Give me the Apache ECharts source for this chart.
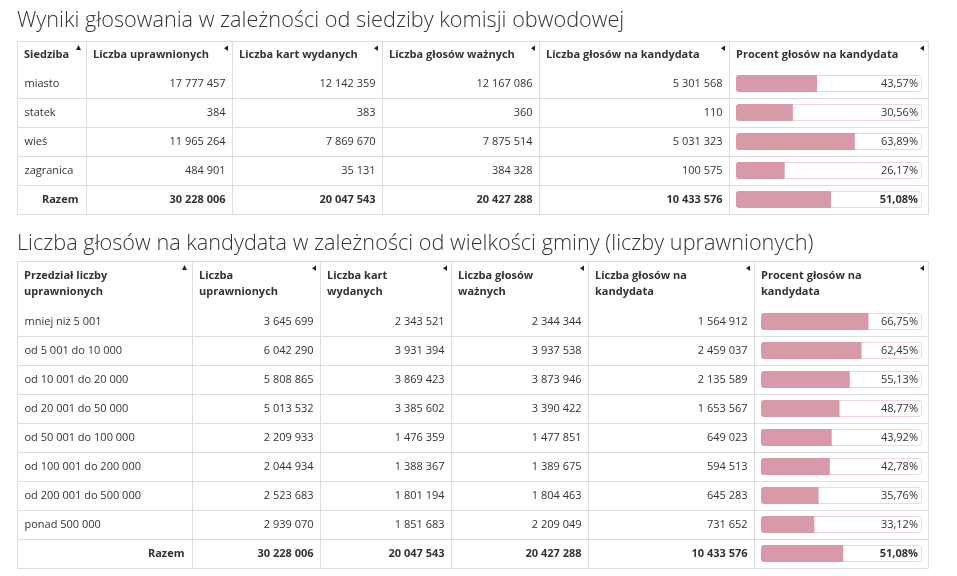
<!DOCTYPE html>
<html><head><meta charset="utf-8">
<script src="https://cdn.jsdelivr.net/npm/echarts@6/dist/echarts.min.js"></script>
<style>html,body{margin:0;padding:0;background:#fff}#c{width:957px;height:576px}</style>
</head><body><div id="c"></div>
<script>
// ---------- DATA ----------
const title1 = 'Wyniki głosowania w zależności od siedziby komisji obwodowej';
const headers1 = ['Siedziba','Liczba uprawnionych','Liczba kart wydanych','Liczba głosów ważnych','Liczba głosów na kandydata','Procent głosów na kandydata'];
const siedziba = ['miasto','statek','wieś','zagranica'];
const uprawnieni1 = [17777457, 384, 11965264, 484901];
const karty1 = [12142359, 383, 7869670, 35131];
const wazne1 = [12167086, 360, 7875514, 384328];
const naKand1 = [5301568, 110, 5031323, 100575];
const procent1 = [43.57, 30.56, 63.89, 26.17];
const razem1 = [30228006, 20047543, 20427288, 10433576];
const razemPct1 = 51.08;

const title2 = 'Liczba głosów na kandydata w zależności od wielkości gminy (liczby uprawnionych)';
const headers2 = ['Przedział liczby\nuprawnionych','Liczba\nuprawnionych','Liczba kart\nwydanych','Liczba głosów\nważnych','Liczba głosów na\nkandydata','Procent głosów na\nkandydata'];
const przedzialy = ['mniej niż 5 001','od 5 001 do 10 000','od 10 001 do 20 000','od 20 001 do 50 000','od 50 001 do 100 000','od 100 001 do 200 000','od 200 001 do 500 000','ponad 500 000'];
const uprawnieni2 = [3645699, 6042290, 5808865, 5013532, 2209933, 2044934, 2523683, 2939070];
const karty2 = [2343521, 3931394, 3869423, 3385602, 1476359, 1388367, 1801194, 1851683];
const wazne2 = [2344344, 3937538, 3873946, 3390422, 1477851, 1389675, 1804463, 2209049];
const naKand2 = [1564912, 2459037, 2135589, 1653567, 649023, 594513, 645283, 731652];
const procent2 = [66.75, 62.45, 55.13, 48.77, 43.92, 42.78, 35.76, 33.12];
const razem2 = [30228006, 20047543, 20427288, 10433576];
const razemPct2 = 51.08;
const razemLabel = 'Razem';

// ---------- LAYOUT / STYLE ----------
const FONT = '"Open Sans", "DejaVu Sans", sans-serif';
const TXT = '#333';
const LINE = '#dddddd';
const BAR = '#d89aa8';
const TRACK_BORDER = '#f1d6dd';
const L1 = {cols:[17,86,232,382,539,729,928], top:41, headH:28, rowH:29, titleY:21};
const L2 = {cols:[17,192,320,451,588,754,928], top:261, headH:46, rowH:29, titleY:244};

const fmt = n => String(n).replace(/\B(?=(\d{3})+(?!\d))/g, '\u00a0');
const fmtPct = p => p.toFixed(2).replace('.', ',') + '%';

function buildTable(cats, cols, pcts, razem, razemPct) {
  const rows = cats.map((c, i) => ({label: c, vals: cols.map(a => a[i]), bold: false}));
  rows.push({label: razemLabel, vals: razem, bold: true});
  const allPct = pcts.concat([razemPct]);
  return {rows, allPct};
}

const t1 = buildTable(siedziba, [uprawnieni1, karty1, wazne1, naKand1], procent1, razem1, razemPct1);
const t2 = buildTable(przedzialy, [uprawnieni2, karty2, wazne2, naKand2], procent2, razem2, razemPct2);

const grids = [], xAxes = [], yAxes = [], series = [], graphics = [];

function addTable(L, t, headers, titleText) {
  const W = L.cols[6] - L.cols[0];
  const bodyTop = L.top + L.headH;
  const n = t.rows.length;
  const cats = t.rows.map(r => r.label);
  const gi = grids.length;
  // text grid
  grids.push({left: L.cols[0], top: bodyTop, width: W, height: n * L.rowH});
  xAxes.push({type: 'value', gridIndex: gi, min: 0, max: W, show: false});
  yAxes.push({type: 'category', gridIndex: gi, data: cats, inverse: true, show: false});
  // bar grid
  const bl = L.cols[5] + 7, br = L.cols[6] - 6;
  grids.push({left: bl, top: bodyTop, width: br - bl, height: n * L.rowH});
  xAxes.push({type: 'value', gridIndex: gi + 1, min: 0, max: 100, show: false});
  yAxes.push({type: 'category', gridIndex: gi + 1, data: cats, inverse: true, show: false});

  const rel = L.cols.map(c => c - L.cols[0]);
  series.push({
    type: 'custom', xAxisIndex: gi, yAxisIndex: gi, clip: false, silent: true,
    data: t.rows.map((r, i) => [0, i]),
    renderItem: function (params, api) {
      const r = t.rows[params.dataIndex];
      const ci = api.value(1);
      const c = api.coord([0, ci]);
      const h = api.size([0, 1])[1];
      const y0 = Math.round(c[1] - h / 2) + 0.5, y1 = Math.round(c[1] + h / 2) + 0.5;
      const xs = rel.map(v => Math.round(api.coord([v, ci])[0]) + 0.5);
      const ch = [];
      ch.push({type: 'line', shape: {x1: xs[0], y1: y1, x2: xs[6], y2: y1}, style: {stroke: LINE, lineWidth: 1}});
      xs.forEach(x => ch.push({type: 'line', shape: {x1: x, y1: y0, x2: x, y2: y1}, style: {stroke: LINE, lineWidth: 1}}));
      const base = {fontSize: 11, fontFamily: FONT, fill: TXT, verticalAlign: 'middle', fontWeight: r.bold ? 'bold' : 'normal'};
      if (r.bold) {
        ch.push({type: 'text', style: Object.assign({text: r.label, x: xs[1] - 8, y: c[1], align: 'right'}, base)});
      } else {
        ch.push({type: 'text', style: Object.assign({text: r.label, x: xs[0] + 7, y: c[1], align: 'left'}, base)});
      }
      r.vals.forEach((v, k) => {
        ch.push({type: 'text', style: Object.assign({text: fmt(v), x: xs[k + 2] - 7, y: c[1], align: 'right'}, base)});
      });
      return {type: 'group', children: ch};
    }
  });
  // track bars with percent labels
  series.push({
    type: 'bar', xAxisIndex: gi + 1, yAxisIndex: gi + 1, silent: true,
    data: t.allPct.map((p, i) => ({value: 100, label: {fontWeight: t.rows[i].bold ? 'bold' : 'normal'}})),
    barWidth: 17, barGap: '-100%', z: 2,
    itemStyle: {color: '#fff', borderColor: TRACK_BORDER, borderWidth: 1, borderRadius: 3},
    label: {show: true, position: 'insideRight', distance: 4, fontSize: 11, fontFamily: FONT, color: TXT,
      formatter: p => fmtPct(t.allPct[p.dataIndex])}
  });
  // value bars
  series.push({
    type: 'bar', xAxisIndex: gi + 1, yAxisIndex: gi + 1, silent: true,
    data: t.allPct, barWidth: 17, barGap: '-100%', z: 3,
    itemStyle: {color: BAR, borderRadius: [3, 0, 0, 3]}
  });

  // title
  graphics.push({type: 'text', left: L.cols[0], top: L.titleY - 15,
    style: {text: titleText, fontSize: 21.7, fontFamily: FONT, fontWeight: 300, fill: '#333', lineHeight: 30}});
  // header lines
  const x0 = L.cols[0] + 0.5, x6 = L.cols[6] + 0.5, yt = L.top + 0.5, yb = bodyTop + 0.5;
  graphics.push({type: 'line', shape: {x1: x0, y1: yt, x2: x6, y2: yt}, style: {stroke: LINE, lineWidth: 1}});
  L.cols.forEach(x => graphics.push({type: 'line', shape: {x1: x + 0.5, y1: yt, x2: x + 0.5, y2: yb}, style: {stroke: LINE, lineWidth: 1}}));
  const hc = L.top + L.headH / 2;
  headers.forEach((h, k) => {
    graphics.push({type: 'text', x: L.cols[k] + 7, y: hc,
      style: {text: h, fontSize: 11, fontWeight: 'bold', fontFamily: FONT, fill: TXT, verticalAlign: 'middle', align: 'left', lineHeight: 16}});
    const r = L.cols[k + 1];
    if (k === 0) {
      graphics.push({type: 'polygon', shape: {points: [[r - 10, L.top + 9], [r - 5, L.top + 9], [r - 7.5, L.top + 4]]}, style: {fill: '#222'}});
    } else {
      graphics.push({type: 'polygon', shape: {points: [[r - 4, L.top + 4.5], [r - 4, L.top + 10], [r - 8, L.top + 7.25]]}, style: {fill: '#222'}});
    }
  });
}

addTable(L1, t1, headers1, title1);
addTable(L2, t2, headers2, title2);

const chart = echarts.init(document.getElementById('c'), null, {renderer: 'canvas'});
chart.setOption({
  animation: false,
  backgroundColor: '#fff',
  grid: grids, xAxis: xAxes, yAxis: yAxes, series: series,
  graphic: graphics
});
</script></body></html>
